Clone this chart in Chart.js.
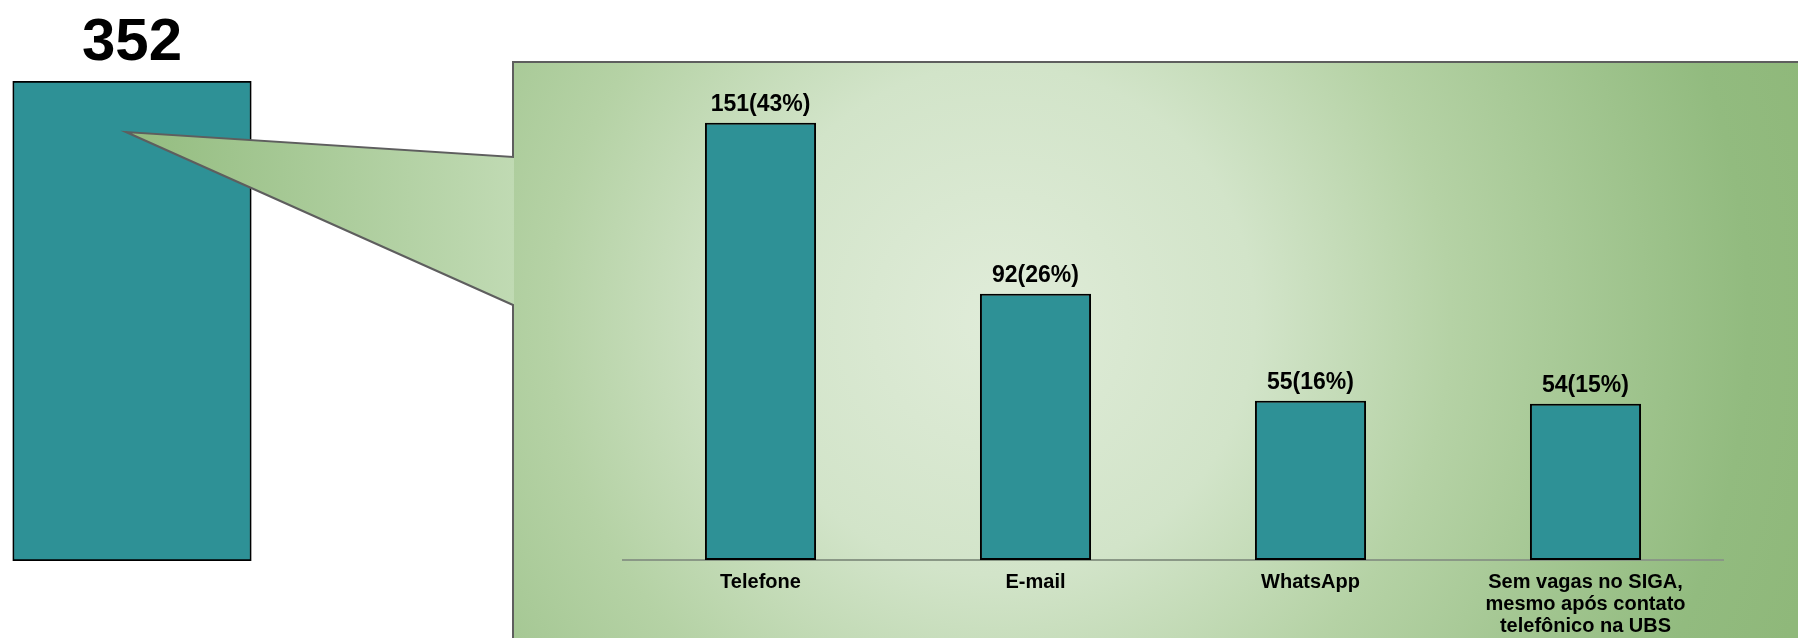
<!DOCTYPE html>
<html>
<head>
    <meta charset="utf-8">
    <title>Agendamentos</title>
    <script src="https://cdn.jsdelivr.net/npm/chart.js"></script>
    <style>
        html, body {
            margin: 0;
            padding: 0;
            background-color: #ffffff;
            overflow: hidden;
        }
        #wrap {
            position: relative;
            width: 1798px;
            height: 638px;
        }
        canvas {
            position: absolute;
        }
        #totalChart { left: 0; top: 0; }
        #detailChart { left: 513px; top: 62px; }
    </style>
</head>
<body>
<div id="wrap">
    <canvas id="totalChart" width="1798" height="638"></canvas>
    <canvas id="detailChart" width="1285" height="576"></canvas>
</div>

<script>
    const totalLabels = ['Total'];
    const totalValues = [352];

    const categories = [
        'Telefone',
        'E-mail',
        'WhatsApp',
        ['Sem vagas no SIGA,', 'mesmo após contato', 'telefônico na UBS']
    ];
    const counts = [151, 92, 55, 54];
    const percents = [43, 26, 16, 15];

    const FONT = "'Liberation Sans', Arial, sans-serif";
    const BAR_COLOR = '#2e9196';

    // panel behind the detail chart + callout from the total bar
    const panelPlugin = {
        id: 'panelPlugin',
        afterDatasetsDraw(chart) {
            const c = chart.ctx;
            const bar = chart.getDatasetMeta(0).data[0];
            const px = 513, py = 62;
            const ax = bar.x - 6, ay = bar.y + 51;
            const y1 = 157, y2 = 305;

            c.save();
            // panel
            const rg = c.createRadialGradient(1000, 320, 0, 1000, 320, 850);
            rg.addColorStop(0, '#e0ecd9');
            rg.addColorStop(0.3, '#d2e4c9');
            rg.addColorStop(0.53, '#b5d2a5');
            rg.addColorStop(0.88, '#92bb7f');
            rg.addColorStop(1, '#8fb87a');
            c.fillStyle = rg;
            c.fillRect(px, py, 1798 - px + 10, 638 - py + 10);

            // callout triangle
            const lg = c.createLinearGradient(ax, 0, px, 0);
            lg.addColorStop(0, '#93bc7f');
            lg.addColorStop(1, '#c0dab3');
            c.fillStyle = lg;
            c.beginPath();
            c.moveTo(ax, ay);
            c.lineTo(px + 1, y1);
            c.lineTo(px + 1, y2);
            c.closePath();
            c.fill();

            // outline
            c.strokeStyle = '#5e5e5e';
            c.lineWidth = 2;
            c.lineJoin = 'miter';
            c.beginPath();
            c.moveTo(1800, py);
            c.lineTo(px, py);
            c.lineTo(px, y1);
            c.lineTo(ax, ay);
            c.lineTo(px, y2);
            c.lineTo(px, 640);
            c.stroke();

            // total label
            c.fillStyle = '#000000';
            c.font = 'bold 60px ' + FONT;
            c.textAlign = 'center';
            c.textBaseline = 'alphabetic';
            c.fillText(String(totalValues[0]), bar.x, bar.y - 21);
            c.restore();
        }
    };

    const valueLabels = {
        id: 'valueLabels',
        afterDatasetsDraw(chart) {
            const c = chart.ctx;
            c.save();
            c.fillStyle = '#000000';
            c.font = 'bold 23px ' + FONT;
            c.textAlign = 'center';
            c.textBaseline = 'alphabetic';
            chart.getDatasetMeta(0).data.forEach((bar, i) => {
                c.fillText(counts[i] + '(' + percents[i] + '%)', bar.x, bar.y - 12);
            });
            c.restore();
        }
    };

    new Chart(document.getElementById('totalChart'), {
        type: 'bar',
        data: {
            labels: totalLabels,
            datasets: [{
                data: totalValues,
                backgroundColor: BAR_COLOR,
                borderColor: '#000000',
                borderWidth: 2,
                borderSkipped: false,
                barPercentage: 1,
                categoryPercentage: 1
            }]
        },
        options: {
            responsive: false,
            animation: false,
            layout: { padding: { left: 12.5, right: 1546.5, top: 81, bottom: 77 } },
            plugins: { legend: { display: false }, tooltip: { enabled: false } },
            scales: {
                x: { display: false },
                y: { display: false, min: 0, max: 352 }
            }
        },
        plugins: [panelPlugin]
    });

    new Chart(document.getElementById('detailChart'), {
        type: 'bar',
        data: {
            labels: categories,
            datasets: [{
                data: counts,
                backgroundColor: BAR_COLOR,
                borderColor: '#000000',
                borderWidth: 2,
                borderSkipped: false,
                barPercentage: 0.404,
                categoryPercentage: 1
            }]
        },
        options: {
            responsive: false,
            animation: false,
            layout: { padding: { left: 110, right: 75, top: 0, bottom: 0 } },
            plugins: { legend: { display: false }, tooltip: { enabled: false } },
            scales: {
                x: {
                    grid: { display: false, drawTicks: false },
                    border: { display: true, color: '#8a9886', width: 2 },
                    ticks: {
                        color: '#000000',
                        padding: 11,
                        maxRotation: 0,
                        autoSkip: false,
                        font: { family: FONT, size: 20, weight: 'bold', lineHeight: 1.1 }
                    },
                    afterFit: scale => { scale.height = 78; }
                },
                y: { display: false, min: 0, max: 172 }
            }
        },
        plugins: [valueLabels]
    });
</script>
</body>
</html>
